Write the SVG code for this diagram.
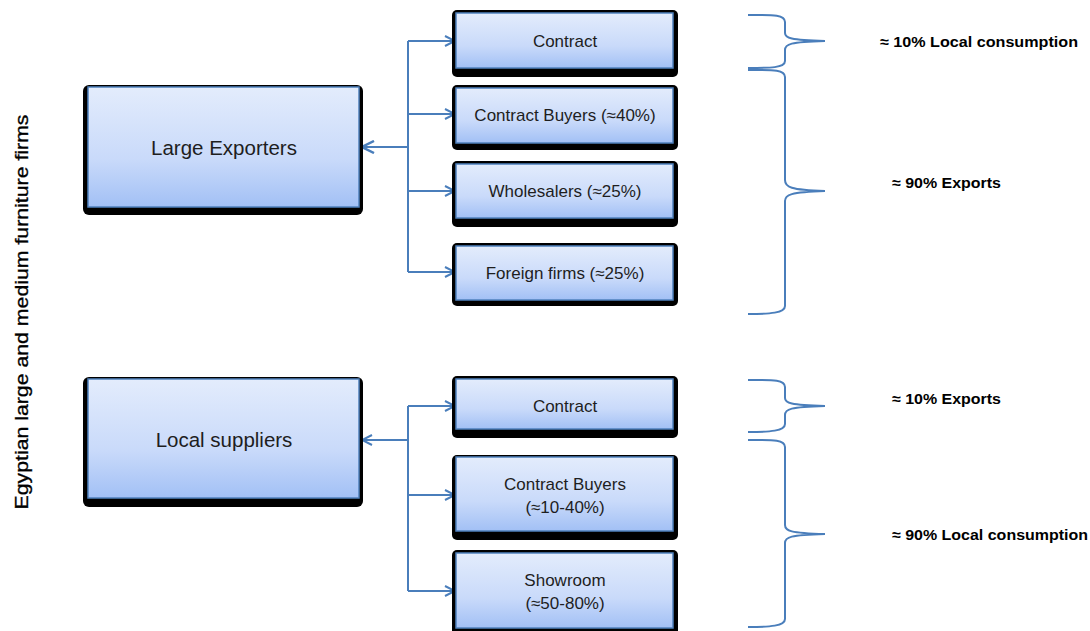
<svg xmlns="http://www.w3.org/2000/svg" width="1090" height="631" viewBox="0 0 1090 631">
<defs>
<linearGradient id="g" x1="0" y1="0" x2="0" y2="1">
<stop offset="0" stop-color="#e3ecfc"/>
<stop offset="0.6" stop-color="#c9dafa"/>
<stop offset="1" stop-color="#a2c0f5"/>
</linearGradient>
<marker id="ah" markerWidth="12" markerHeight="12" viewBox="0 0 12 12" refX="11" refY="6" orient="auto" markerUnits="userSpaceOnUse">
<path d="M1,1 L11,6 L1,11" fill="none" stroke="#4a7ebb" stroke-width="2"/>
</marker>
<marker id="ah2" markerWidth="14" markerHeight="14" viewBox="0 0 14 14" refX="13" refY="7" orient="auto" markerUnits="userSpaceOnUse">
<path d="M1,1 L13,7 L1,13" fill="none" stroke="#4a7ebb" stroke-width="2.5"/>
</marker>
</defs>
<style>
.sh{fill:#000;}
.bx{fill:url(#g);stroke:#4f81bd;stroke-width:1.5;}
.t{font-family:"Liberation Sans",Arial,sans-serif;fill:#1e1e1e;text-anchor:middle;dominant-baseline:central;}
.s{font-size:17px;}
.b{font-size:20.5px;}
.lb{font-family:"Liberation Sans",Arial,sans-serif;font-weight:bold;font-size:15px;fill:#000;}
.c{fill:none;stroke:#4a7ebb;stroke-width:2;}
.br{fill:none;stroke:#4a7ebb;stroke-width:2;}
</style>
<rect width="1090" height="631" fill="#fff"/>
<g id="connectors">
<path class="c" d="M408,41 V272"/>
<path class="c" d="M408,41 H455" marker-end="url(#ah)"/>
<path class="c" d="M408,114 H455" marker-end="url(#ah)"/>
<path class="c" d="M408,191 H455" marker-end="url(#ah)"/>
<path class="c" d="M408,272 H455" marker-end="url(#ah)"/>
<path class="c" d="M408,147 H362" stroke-width="3.5" marker-end="url(#ah2)"/>
<path class="c" d="M408,406 V591"/>
<path class="c" d="M408,406 H455" marker-end="url(#ah)"/>
<path class="c" d="M408,495 H455" marker-end="url(#ah)"/>
<path class="c" d="M408,591 H455" marker-end="url(#ah)"/>
<path class="c" d="M408,440 H362" marker-end="url(#ah)"/>
</g>
<g id="title">
<text transform="translate(22,312) rotate(-90)" text-anchor="middle" dominant-baseline="central" font-family="'Liberation Sans',Arial,sans-serif" font-size="17.5" fill="#000" stroke="#000" stroke-width="0.3" textLength="395" lengthAdjust="spacingAndGlyphs">Egyptian large and medium furniture firms</text>
</g>
<g id="large-exporters">
<rect class="sh" x="83" y="85" width="280" height="130" rx="6"/>
<rect class="bx" x="88" y="87" width="271" height="120"/>
<text class="t b" x="224" y="147">Large Exporters</text>
</g>
<g id="local-suppliers">
<rect class="sh" x="83" y="377" width="280" height="130" rx="6"/>
<rect class="bx" x="88" y="379" width="271" height="119"/>
<text class="t b" x="224" y="439">Local suppliers</text>
</g>
<g id="contract-1">
<rect class="sh" x="452" y="10" width="226" height="67" rx="5"/>
<rect class="bx" x="456" y="13" width="217" height="55"/>
<text class="t s" x="565" y="41">Contract</text>
</g>
<g id="contract-buyers-1">
<rect class="sh" x="452" y="85" width="226" height="65" rx="5"/>
<rect class="bx" x="456" y="88" width="217" height="55"/>
<text class="t s" x="565" y="115">Contract Buyers (≈40%)</text>
</g>
<g id="wholesalers">
<rect class="sh" x="452" y="161" width="226" height="66" rx="5"/>
<rect class="bx" x="456" y="164" width="217" height="54"/>
<text class="t s" x="565" y="191">Wholesalers (≈25%)</text>
</g>
<g id="foreign-firms">
<rect class="sh" x="452" y="243" width="226" height="63" rx="5"/>
<rect class="bx" x="456" y="246" width="217" height="54"/>
<text class="t s" x="565" y="273">Foreign firms (≈25%)</text>
</g>
<g id="contract-2">
<rect class="sh" x="452" y="376" width="226" height="62" rx="5"/>
<rect class="bx" x="456" y="379" width="217" height="50"/>
<text class="t s" x="565" y="406">Contract</text>
</g>
<g id="contract-buyers-2">
<rect class="sh" x="452" y="455" width="226" height="85" rx="5"/>
<rect class="bx" x="456" y="457" width="217" height="74"/>
<text class="t s" x="565" y="484">Contract Buyers</text>
<text class="t s" x="565" y="507">(≈10-40%)</text>
</g>
<g id="showroom">
<rect class="sh" x="452" y="550" width="226" height="90" rx="5"/>
<rect class="bx" x="456" y="553" width="217" height="75"/>
<text class="t s" x="565" y="580">Showroom</text>
<text class="t s" x="565" y="603">(≈50-80%)</text>
</g>
<g id="braces">
<path class="br" d="M748,15 C770,15 785,14 785,22 V33 C785,38 790,40 825,41 C790,42 785,44 785,50 V61 C785,68 770,68 748,68"/>
<path class="br" d="M748,70 C770,70 785,69 785,77 V180 C785,187 790,190 825,191 C790,192 785,195 785,201 V306 C785,313 770,314 748,314"/>
<path class="br" d="M748,380 C770,380 785,379 785,387 V398 C785,403 790,405 825,406 C790,407 785,409 785,415 V424 C785,431 770,432 748,432"/>
<path class="br" d="M748,440 C770,440 785,439 785,447 V525 C785,531 790,533 825,534 C790,535 785,537 785,543 V619 C785,626 770,627 748,627"/>
</g>
<g id="labels">
<text class="lb" x="880" y="47" textLength="198" lengthAdjust="spacingAndGlyphs">≈ 10% Local consumption</text>
<text class="lb" x="892" y="188" textLength="109" lengthAdjust="spacingAndGlyphs">≈ 90% Exports</text>
<text class="lb" x="892" y="404" textLength="109" lengthAdjust="spacingAndGlyphs">≈ 10% Exports</text>
<text class="lb" x="892" y="540" textLength="196" lengthAdjust="spacingAndGlyphs">≈ 90% Local consumption</text>
</g>
</svg>
